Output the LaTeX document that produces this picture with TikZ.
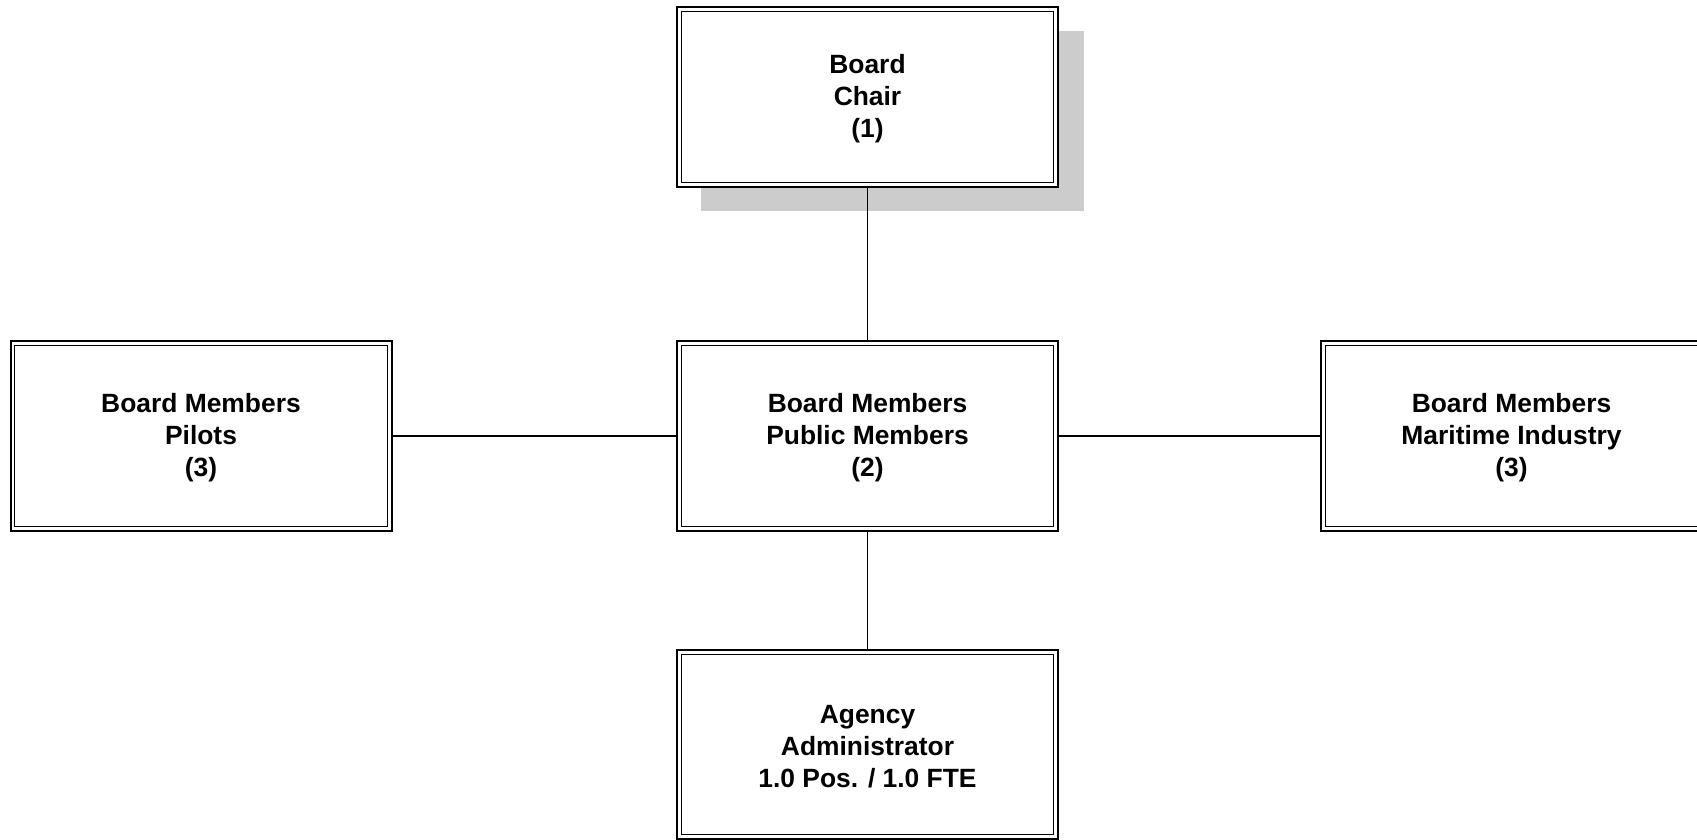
\documentclass[tikz,border=0pt]{standalone}
\usepackage{fontspec}
\setmainfont{Liberation Sans}
\begin{document}
\begin{tikzpicture}[x=0.5pt,y=-0.5pt,
  orgbox/.style={draw=black, line width=1pt, fill=white, inner sep=0pt, outer sep=0pt,
    minimum width=190.5pt},
  lbl/.style={inner sep=0pt, align=center,
    font=\fontsize{13.2pt}{16pt}\selectfont\bfseries},
  innerline/.style={draw=black, line width=0.6pt},
  conn/.style={draw=black, line width=0.8pt},
  shadowbox/.style={fill=black!20, draw=none}
]
\clip (0,0) rectangle (1697,840);
\useasboundingbox (0,0) rectangle (1697,840);
% shadow of chair box
\fill[shadowbox] (701,31) rectangle (1084,211);
% boxes
\node[orgbox, minimum height=90pt] (chair) at (867.5,97) {};
\node[orgbox, minimum height=95pt] (pilots) at (201,436) {};
\node[orgbox, minimum height=95pt] (public) at (867.5,436) {};
\node[orgbox, minimum height=95pt] (marit) at (1511.5,436) {};
\node[orgbox, minimum height=94.5pt] (agency) at (867.5,744.5) {};
% inner lines
\foreach \n in {chair,pilots,public,marit,agency}{
  \draw[innerline] ([shift={(2.1pt,-2.1pt)}]\n.north west) rectangle ([shift={(-2.1pt,2.1pt)}]\n.south east);
}
% texts
\node[lbl] (chairt) at ([yshift=-1pt]chair.center) {Board\\Chair\\(1)};
\node[lbl] (pilotst) at ([yshift=-1pt]pilots.center) {Board Members\\Pilots\\(3)};
\node[lbl] (publict) at ([yshift=-1pt]public.center) {Board Members\\Public Members\\(2)};
\node[lbl] (maritt) at ([yshift=-1pt]marit.center) {Board Members\\Maritime Industry\\(3)};
\node[lbl] (agencyt) at ([yshift=-1pt]agency.center) {Agency\\Administrator\\1.0 Pos. / 1.0 FTE};
% connectors
\draw[conn] (chair.south) -- (public.north);
\draw[conn] (pilots.east) -- (public.west);
\draw[conn] (public.east) -- (marit.west);
\draw[conn] (public.south) -- (agency.north);
\end{tikzpicture}
\end{document}
